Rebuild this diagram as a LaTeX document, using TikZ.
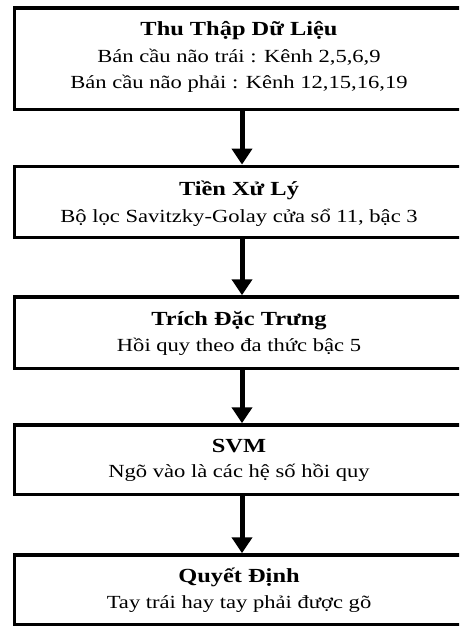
\documentclass[tikz,border=0pt]{standalone}
\usepackage{fontspec}
\setmainfont{Liberation Serif}[FakeStretch=1.22]
\usetikzlibrary{arrows.meta}
\begin{document}
\begin{tikzpicture}[x=1pt,y=-1pt,
  box/.style={draw, line width=3.5pt, minimum width=454.6pt, inner sep=0pt},
  ttl/.style={font=\fontsize{20}{24}\selectfont\bfseries, anchor=base, inner sep=0pt},
  txt/.style={font=\fontsize{18.5}{22}\selectfont, anchor=base, inner sep=0pt},
  flow/.style={line width=5pt, -{Triangle[width=20pt,length=16pt]}}]
\useasboundingbox (0,0) rectangle (459,626);
\clip (0,0) rectangle (459,626);
\node[box, minimum height=101.3pt] (b1) at (242,58.65) {};
\node[box, minimum height=71.4pt] (b2) at (242,202) {};
\node[box, minimum height=71.3pt] (b3) at (242,332.65) {};
\node[box, minimum height=69.3pt] (b4) at (242,459.65) {};
\node[box, minimum height=70pt] (b5) at (242,590) {};
\node[ttl] (t1) at (239,36) {Thu Thập Dữ Liệu};
\node[txt] (s1a) at (239,62.5) {Bán cầu não trái : Kênh 2,5,6,9};
\node[txt] (s1b) at (239,88.5) {Bán cầu não phải : Kênh 12,15,16,19};
\node[ttl] (t2) at (239,195) {Tiền Xử Lý};
\node[txt] (s2) at (239,222) {Bộ lọc Savitzky-Golay cửa sổ 11, bậc 3};
\node[ttl] (t3) at (239,325) {Trích Đặc Trưng};
\node[txt] (s3) at (239,351) {Hồi quy theo đa thức bậc 5};
\node[ttl] (t4) at (239,452) {SVM};
\node[txt] (s4) at (239,477.5) {Ngõ vào là các hệ số hồi quy};
\node[ttl] (t5) at (239,582) {Quyết Định};
\node[txt] (s5) at (239,608) {Tay trái hay tay phải được gõ};
\draw[flow] (b1.south) -- (b2.north);
\draw[flow] (b2.south) -- (b3.north);
\draw[flow] (b3.south) -- (b4.north);
\draw[flow] (b4.south) -- (b5.north);
\end{tikzpicture}
\end{document}
